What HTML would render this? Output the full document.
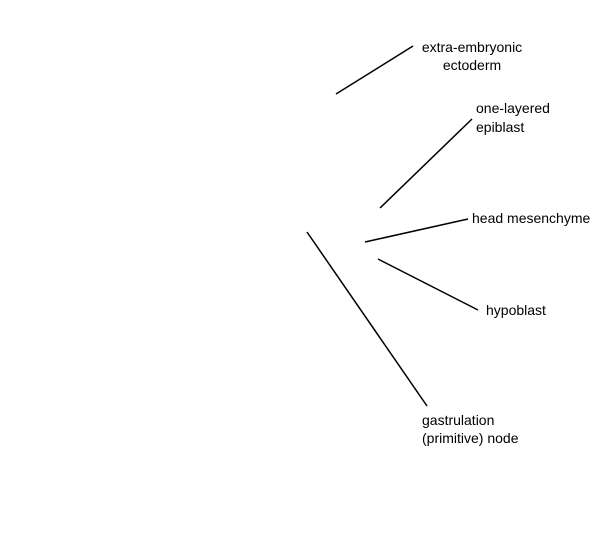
<!DOCTYPE html>
<html><head><style>html,body{margin:0;padding:0;background:#fff;}</style></head>
<body>
<svg width="600" height="554" xmlns="http://www.w3.org/2000/svg" style="display:block">
<g stroke="#000" stroke-width="1.5" fill="none">
<line x1="336" y1="94" x2="413" y2="46"/>
<line x1="380" y1="208" x2="472" y2="119"/>
<line x1="365" y1="242" x2="468" y2="219"/>
<line x1="378" y1="259" x2="478" y2="310"/>
<line x1="307" y1="232" x2="427" y2="406"/>
</g>
<g font-family="Liberation Sans, Arial, sans-serif" font-size="14" fill="#000">
<text x="472" y="52" text-anchor="middle">extra-embryonic</text>
<text x="472" y="70" text-anchor="middle">ectoderm</text>
<text x="476" y="113">one-layered</text>
<text x="476" y="132">epiblast</text>
<text x="472" y="223">head mesenchyme</text>
<text x="486" y="315">hypoblast</text>
<text x="422" y="425">gastrulation</text>
<text x="422" y="443">(primitive) node</text>
</g>
</svg>
</body></html>
